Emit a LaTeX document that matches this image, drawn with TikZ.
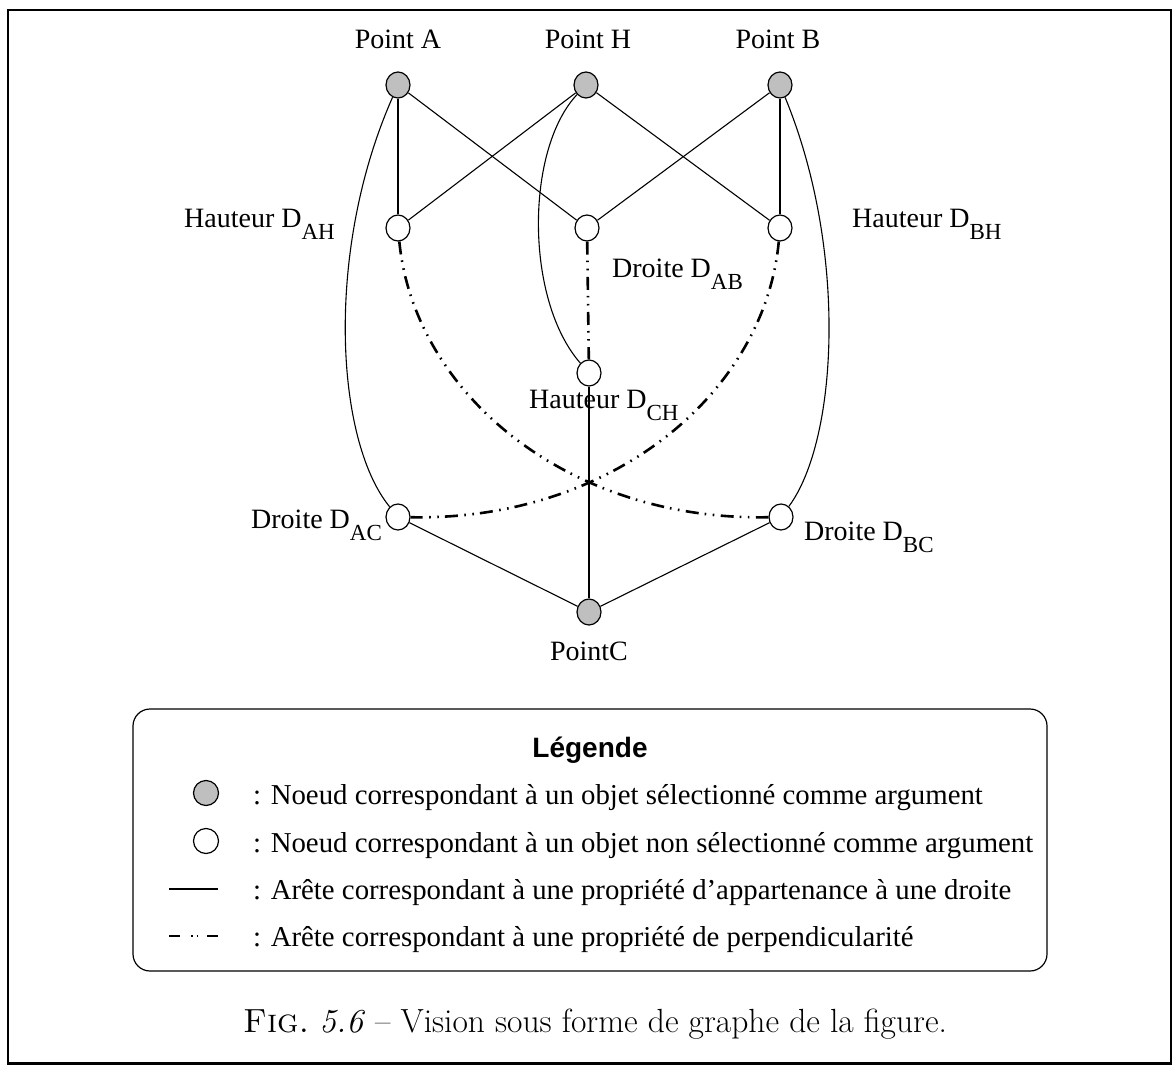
\documentclass[tikz,border=0pt]{standalone}
\usepackage{fontspec}
\usetikzlibrary{shapes.geometric}
\newfontfamily\tms{Liberation Serif}
\newfontfamily\hlv{Liberation Sans}
\newcommand\subs[1]{\raisebox{-12pt}{\fontsize{23}{23}\selectfont #1}}
\begin{document}
\begin{tikzpicture}[x=1pt,y=-1pt,
  vtx/.style={ellipse,draw,line width=1.2pt,minimum width=24pt,minimum height=26pt,inner sep=0pt},
  sel/.style={vtx,fill=black!25},
  unsel/.style={vtx,fill=white},
  lbl/.style={inner sep=0pt,font=\tms\fontsize{28}{30}\selectfont},
  keytext/.style={inner sep=0pt,font=\tms\fontsize{28.8}{31}\selectfont},
  member/.style={line width=1.1pt},
  perp/.style={line width=2.6pt,dash pattern=on 13pt off 6pt on 1.6pt off 6.5pt on 1.6pt off 6.5pt},
  perpkey/.style={line width=2.6pt,dash pattern=on 11pt off 11pt on 1.6pt off 4pt on 1.6pt off 9pt on 11pt off 0pt}
]
\useasboundingbox (0,0) rectangle (1173,1065);
\draw[line width=2.6pt] (7.8,10) rectangle (1171,1063.5);

% vertices
\node[sel]   (A)   at (398,85)  {};
\node[sel]   (H)   at (586,85)  {};
\node[sel]   (B)   at (780,85)  {};
\node[unsel] (DAH) at (398,228) {};
\node[unsel] (DAB) at (587,228) {};
\node[unsel] (DBH) at (780,228) {};
\node[unsel] (DCH) at (589,373) {};
\node[unsel] (DAC) at (398,517) {};
\node[unsel] (DBC) at (781,517) {};
\node[sel]   (C)   at (589,612) {};

% labels
\node[lbl,anchor=base] (lA) at (398,49) {Point A};
\node[lbl,anchor=base] (lH) at (588,49) {Point H};
\node[lbl,anchor=base] (lB) at (778,49) {Point B};
\node[lbl,anchor=base east] (lAH) at (335,227) {Hauteur D\subs{AH}};
\node[lbl,anchor=base west] (lAB) at (612,277) {Droite D\subs{AB}};
\node[lbl,anchor=base west] (lBH) at (852,227) {Hauteur D\subs{BH}};
\node[lbl,anchor=base west] (lCH) at (529,408) {Hauteur D\subs{CH}};
\node[lbl,anchor=base west] (lAC) at (251,528) {Droite D\subs{AC}};
\node[lbl,anchor=base west] (lBC) at (804,540) {Droite D\subs{BC}};
\node[lbl,anchor=base] (lC) at (589,660) {PointC};

% membership edges
\draw[member] (A) -- (DAH);
\draw[member] (A) -- (DAB);
\draw[member] (H) -- (DAH);
\draw[member] (H) -- (DBH);
\draw[member] (B) -- (DAB);
\draw[member] (B) -- (DBH);
\draw[member] (DCH) -- (C);
\draw[member] (DAC) -- (C);
\draw[member] (DBC) -- (C);
\draw[member] (A) .. controls (325,250) and (335,440) .. (DAC);
\draw[member] (B) .. controls (848,250) and (838,440) .. (DBC);
\draw[member] (H) .. controls (525,150) and (525,300) .. (DCH);

% perpendicularity edges
\draw[perp] (DAB) -- (DCH);
\draw[perp] (DAH) .. controls (414,392) and (566,521) .. (DBC);
\draw[perp] (DBH) .. controls (765,392) and (613,521) .. (DAC);

% key
\draw[line width=1.2pt,rounded corners=17pt] (133,709) rectangle (1047,971);
\node[inner sep=0pt,anchor=base,font=\hlv\bfseries\fontsize{28}{30}\selectfont] (kt) at (590,757) {Légende};
\node[sel,minimum width=25pt,minimum height=25pt] (k1) at (206,793) {};
\node[unsel,minimum width=25pt,minimum height=25pt] (k2) at (206,841) {};
\coordinate (k3a) at (169,889);
\coordinate (k3b) at (218,889);
\draw[member] (k3a) -- (k3b);
\coordinate (k4a) at (169,936);
\coordinate (k4b) at (218,936);
\draw[perpkey] (k4a) -- (k4b);
\node[keytext,anchor=base west] (t1) at (253,804) {: Noeud correspondant à un objet sélectionné comme argument};
\node[keytext,anchor=base west] (t2) at (253,852) {: Noeud correspondant à un objet non sélectionné comme argument};
\node[keytext,anchor=base west] (t3) at (253,899) {: Arête correspondant à une propriété d’appartenance à une droite};
\node[keytext,anchor=base west] (t4) at (253,946) {: Arête correspondant à une propriété de perpendicularité};

% caption
\node[inner sep=0pt,anchor=base west,font=\fontsize{33.5}{36}\selectfont] (cap) at (243,1032)
  {\textsc{Fig.}~\textit{5.6} -- Vision sous forme de graphe de la figure.};
\end{tikzpicture}
\end{document}
